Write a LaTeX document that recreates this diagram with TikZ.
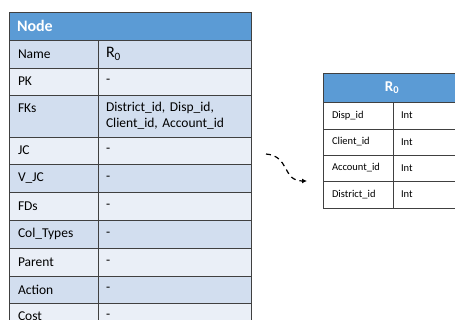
\documentclass[tikz,border=0pt]{standalone}
\usepackage{fontspec}
\setmainfont{Carlito}
\usetikzlibrary{positioning, arrows.meta}
\definecolor{hdblue}{HTML}{5B9BD5}
\definecolor{banddark}{HTML}{D2DEEF}
\definecolor{bandlight}{HTML}{EAEFF7}

\begin{document}
\begin{tikzpicture}[
x=1pt, y=1pt,
cell/.style={rectangle, draw=black!75, line width=0.8pt, inner ysep=0pt, outer sep=0pt, align=left},
keycell/.style={cell, inner xsep=9pt, text width=71pt, font=\fontsize{13.5}{16}\selectfont},
valcell/.style={cell, inner xsep=8pt, text width=137pt, font=\fontsize{13.5}{16}\selectfont},
dark/.style={fill=banddark},
light/.style={fill=bandlight},
head/.style={cell, fill=hdblue, text=white, inner xsep=8pt, text width=226pt, minimum height=28pt, font=\bfseries\fontsize{16}{18}\selectfont},
smallkey/.style={cell, fill=white, inner xsep=9pt, text width=52pt, font=\fontsize{10.5}{12}\selectfont},
smallval/.style={cell, fill=white, inner xsep=8pt, text width=52pt, font=\fontsize{10.5}{12}\selectfont},
smallhead/.style={cell, fill=hdblue, text=white, align=center, inner xsep=0pt, text width=138pt, minimum height=29pt, font=\bfseries\fontsize{15}{17}\selectfont}
]
\useasboundingbox (0,0) rectangle (455,-320);

%Node table
\node[head] (Head) at (9,-12) [anchor=north west] {Node};
\node[keycell, dark, minimum height=28pt]  (kName)   [below=0pt of Head.south west, anchor=north west] {Name};
\node[valcell, dark, minimum height=28pt]  (vName)   [right=0pt of kName] {{\fontsize{16}{18}\selectfont R\textsubscript{0}}};
\node[keycell, light, minimum height=27pt] (kPK)     [below=0pt of kName] {PK};
\node[valcell, light, minimum height=27pt] (vPK)     [right=0pt of kPK] {-};
\node[keycell, dark, minimum height=42pt]  (kFK)     [below=0pt of kPK] {FKs\\\mbox{}};
\node[valcell, dark, minimum height=42pt]  (vFK)     [right=0pt of kFK] {District\_id, Disp\_id,\\Client\_id, Account\_id};
\node[keycell, light, minimum height=27pt] (kJC)     [below=0pt of kFK] {JC};
\node[valcell, light, minimum height=27pt] (vJC)     [right=0pt of kJC] {-};
\node[keycell, dark, minimum height=28pt]  (kVJC)    [below=0pt of kJC] {V\_JC};
\node[valcell, dark, minimum height=28pt]  (vVJC)    [right=0pt of kVJC] {-};
\node[keycell, light, minimum height=28pt] (kFD)     [below=0pt of kVJC] {FDs};
\node[valcell, light, minimum height=28pt] (vFD)     [right=0pt of kFD] {-};
\node[keycell, dark, minimum height=28pt]  (kCol)    [below=0pt of kFD] {Col\_Types};
\node[valcell, dark, minimum height=28pt]  (vCol)    [right=0pt of kCol] {-};
\node[keycell, light, minimum height=28pt] (kParent) [below=0pt of kCol] {Parent};
\node[valcell, light, minimum height=28pt] (vParent) [right=0pt of kParent] {-};
\node[keycell, dark, minimum height=27pt]  (kAction) [below=0pt of kParent] {Action};
\node[valcell, dark, minimum height=27pt]  (vAction) [right=0pt of kAction] {-};
\node[keycell, light, minimum height=27pt] (kCost)   [below=0pt of kAction] {Cost};
\node[valcell, light, minimum height=27pt] (vCost)   [right=0pt of kCost] {-};

%R0 table
\node[smallhead] (HeadR) at (323,-73) [anchor=north west] {R\textsubscript{0}};
\node[smallkey, minimum height=27pt] (kDisp)     [below=0pt of HeadR.south west, anchor=north west] {Disp\_id};
\node[smallval, minimum height=27pt] (vDisp)     [right=0pt of kDisp] {Int};
\node[smallkey, minimum height=26pt] (kClient)   [below=0pt of kDisp] {Client\_id};
\node[smallval, minimum height=26pt] (vClient)   [right=0pt of kClient] {Int};
\node[smallkey, minimum height=26pt] (kAccount)  [below=0pt of kClient] {Account\_id};
\node[smallval, minimum height=26pt] (vAccount)  [right=0pt of kAccount] {Int};
\node[smallkey, minimum height=27pt] (kDistrict) [below=0pt of kAccount] {District\_id};
\node[smallval, minimum height=27pt] (vDistrict) [right=0pt of kDistrict] {Int};

%Arrow
\coordinate (aS) at (266,-154);
\coordinate (aE) at (307,-181);
\draw[line width=1.2pt, dash pattern=on 5pt off 4pt, -{Latex[length=5pt, width=5pt]}] (aS) .. controls (290,-156) and (282,-181) .. (aE);
\end{tikzpicture}
\end{document}
